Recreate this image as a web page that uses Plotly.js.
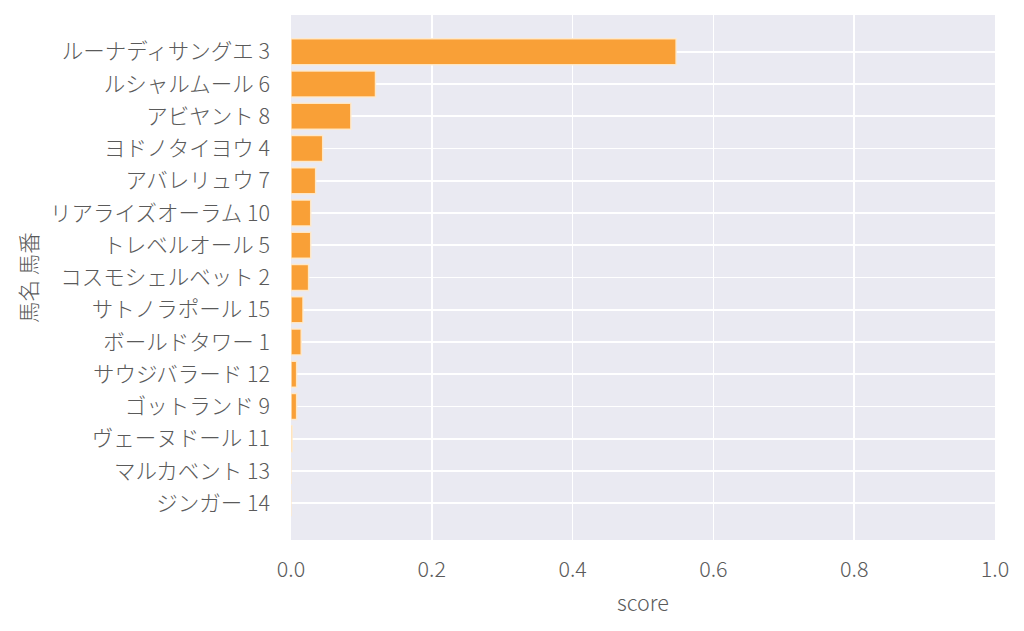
<!DOCTYPE html>
<html>
<head>
<meta charset="utf-8">
<script src="https://cdn.plot.ly/plotly-3.0.1.min.js"></script>
<style>html,body{margin:0;padding:0;background:#fff;}#chart{width:1024px;height:631px;}</style>
</head>
<body>
<div id="chart"></div>
<script>
const horseNames = ["ルーナディサングエ 3","ルシャルムール 6","アビヤント 8","ヨドノタイヨウ 4","アバレリュウ 7","リアライズオーラム 10","トレベルオール 5","コスモシェルベット 2","サトノラポール 15","ボールドタワー 1","サウジバラード 12","ゴットランド 9","ヴェーヌドール 11","マルカベント 13","ジンガー 14"];
const scores = [0.547, 0.120, 0.085, 0.045, 0.035, 0.028, 0.028, 0.025, 0.017, 0.0145, 0.008, 0.008, 0.0015, 0, 0];
const xTicks = [0, 0.2, 0.4, 0.6, 0.8, 1.0];
const xTickText = ["0.0","0.2","0.4","0.6","0.8","1.0"];

const fontFam = '"Noto Sans CJK JP", "Noto Sans", sans-serif';
const txtColor = '#5a5a5a';
const fs = 21.5;

const trace = {
  type: 'bar',
  orientation: 'h',
  x: scores,
  y: horseNames,
  width: 0.8,
  marker: {color: '#F9A037', line: {color: 'rgba(255,235,205,0.9)', width: 1.5}},
  hoverinfo: 'none'
};

const layout = {
  width: 1024, height: 631,
  paper_bgcolor: '#ffffff',
  plot_bgcolor: '#EAEAF2',
  margin: {l: 291, r: 29, t: 15, b: 91, pad: 0},
  showlegend: false,
  font: {family: fontFam, color: txtColor, size: fs, weight: 300},
  xaxis: {
    range: [0, 1],
    tickvals: xTicks, ticktext: xTickText,
    showgrid: true, gridcolor: '#ffffff', gridwidth: 1.6,
    zeroline: false, showline: false, ticks: '',
    ticklabelstandoff: 14,
    tickfont: {family: fontFam, size: fs, color: txtColor, weight: 300},
    title: {text: 'score', font: {family: fontFam, size: fs, color: txtColor, weight: 300}, standoff: 14},
    fixedrange: true
  },
  yaxis: {
    type: 'category',
    range: [15.14, -1.14],
    showgrid: true, gridcolor: '#ffffff', gridwidth: 1.6,
    zeroline: false, showline: false, ticks: '',
    ticklabelstandoff: 20,
    tickfont: {family: fontFam, size: fs, color: txtColor, weight: 300},
    title: {text: '馬名 馬番', font: {family: fontFam, size: fs, color: txtColor, weight: 300}, standoff: 6},
    fixedrange: true
  }
};

Plotly.newPlot('chart', [trace], layout, {staticPlot: true, displayModeBar: false});
</script>
</body>
</html>
